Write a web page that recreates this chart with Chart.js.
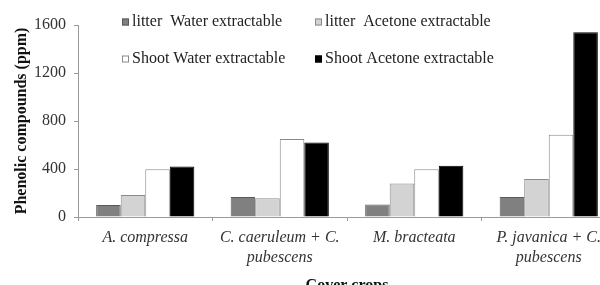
<!DOCTYPE html>
<html lang="en">
<head>
<meta charset="UTF-8">
<title>Phenolic compounds</title>
<script src="https://cdn.jsdelivr.net/npm/chart.js"></script>
<style>
    html, body { margin: 0; padding: 0; background: #fff; overflow: hidden; }
    #wrap { width: 625px; height: 295px; }
</style>
</head>
<body>
<div id="wrap"><canvas id="phenolChart" width="625" height="295"></canvas></div>
<script>
// categories (two-line labels)
const crops = [
    ['A. compressa'],
    ['C. caeruleum + C.', 'pubescens'],
    ['M. bracteata'],
    ['P. javanica + C.', 'pubescens']
];
const seriesNames = ['litter  Water extractable', 'litter  Acetone extractable',
                     'Shoot Water extractable', 'Shoot Acetone extractable'];
const litterWater   = [100, 167, 105, 167];
const litterAcetone = [183, 156, 280, 317];
const shootWater    = [397, 650, 397, 685];
const shootAcetone  = [420, 620, 427, 1540];
const yTicks = [0, 400, 800, 1200, 1600];

const SERIF = '"Liberation Serif", "DejaVu Serif", serif';

// legend drawn as 2 x 2 grid inside plot
const legendGrid = {
    id: 'legendGrid',
    afterDraw(chart) {
        const ctx = chart.ctx;
        const cols = [122, 315];
        const rows = [22, 59];
        ctx.save();
        ctx.font = '16px ' + SERIF;
        ctx.textBaseline = 'middle';
        chart.data.datasets.forEach((ds, i) => {
            const x = cols[i % 2];
            const y = rows[Math.floor(i / 2)];
            ctx.fillStyle = ds.backgroundColor;
            ctx.fillRect(x, y - 3.5, 7, 7);
            ctx.strokeStyle = ds.borderColor;
            ctx.lineWidth = 1;
            ctx.strokeRect(x + 0.5, y - 3, 6, 6);
            ctx.fillStyle = '#222';
            ctx.fillText(ds.label, x + 10, y);
        });
        ctx.restore();
    }
};

const ctx = document.getElementById('phenolChart').getContext('2d');
new Chart(ctx, {
    type: 'bar',
    data: {
        labels: crops,
        datasets: [
            { label: seriesNames[0], data: litterWater,   backgroundColor: '#808080', borderColor: '#5a5a5a' },
            { label: seriesNames[1], data: litterAcetone, backgroundColor: '#d3d3d3', borderColor: '#8a8a8a' },
            { label: seriesNames[2], data: shootWater,    backgroundColor: '#ffffff', borderColor: '#8a8a8a' },
            { label: seriesNames[3], data: shootAcetone,  backgroundColor: '#000000', borderColor: '#000000' }
        ]
    },
    options: {
        responsive: false,
        animation: false,
        datasets: {
            bar: { borderWidth: 1, categoryPercentage: 0.73, barPercentage: 1 }
        },
        layout: { padding: { top: 25, right: 9, bottom: 0, left: 0 } },
        plugins: {
            legend: { display: false },
            tooltip: { enabled: false }
        },
        scales: {
            x: {
                grid: { drawOnChartArea: false, drawTicks: true, tickLength: 4, color: '#9a9a9a' },
                border: { display: true, color: '#9a9a9a' },
                ticks: {
                    font: { family: SERIF, size: 16, style: 'italic', lineHeight: 1.3 },
                    color: '#333',
                    maxRotation: 0,
                    autoSkip: false,
                    padding: 6
                },
                title: {
                    display: true,
                    text: 'Cover crops',
                    font: { family: SERIF, size: 16, weight: 'bold' },
                    color: '#111',
                    padding: { top: 0, bottom: 0 }
                },
                afterFit(scale) { scale.height = 78; }
            },
            y: {
                min: 0,
                max: 1600,
                afterBuildTicks(scale) { scale.ticks = yTicks.map(v => ({ value: v })); },
                grid: { drawOnChartArea: false, drawTicks: true, tickLength: 4, color: '#9a9a9a' },
                border: { display: true, color: '#9a9a9a' },
                ticks: {
                    font: { family: SERIF, size: 16 },
                    color: '#333',
                    padding: 8,
                    callback: v => String(v)
                },
                title: {
                    display: true,
                    text: 'Phenolic compounds (ppm)',
                    font: { family: SERIF, size: 16, weight: 'bold' },
                    color: '#111',
                    padding: { top: 12, bottom: 0 }
                },
                afterFit(scale) { scale.width = 78; }
            }
        }
    },
    plugins: [legendGrid]
});
</script>
</body>
</html>
